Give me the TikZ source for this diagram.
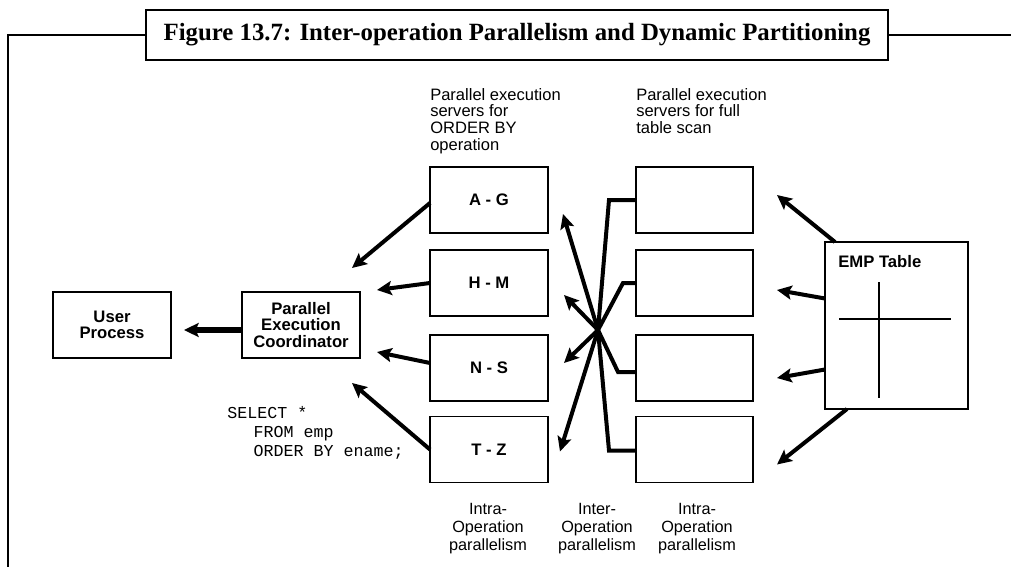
\documentclass[tikz,border=0pt]{standalone}
\usepackage{fontspec}
\setmainfont{Liberation Serif}
\setsansfont{Liberation Sans}
\setmonofont{Liberation Mono}
\usetikzlibrary{arrows.meta,calc}
\begin{document}
\begin{tikzpicture}[x=0.75pt,y=-0.75pt,
  box/.style={draw,line width=1pt,inner sep=0pt,outer sep=0pt,minimum width=88.5pt,minimum height=49.5pt,font=\sffamily\bfseries\fontsize{12.5}{12.5}\selectfont,align=center},
  arr/.style={line width=3pt,-{Stealth[length=11pt,width=10.5pt,inset=2.2pt]}},
  conn/.style={line width=3pt,line join=miter},
  lab/.style={inner sep=0pt,font=\sffamily\fontsize{12.4}{12.5}\selectfont,align=left},
  blab/.style={inner sep=0pt,font=\sffamily\fontsize{12.2}{13.5}\selectfont,align=center},
  frame/.style={line width=1.6pt},
  thin/.style={line width=1pt}]
\useasboundingbox (0,0) rectangle (1011,567);
% title and frame
\node[draw,line width=2pt,minimum width=556.5pt,minimum height=37.5pt,inner sep=0pt,font=\rmfamily\bfseries\fontsize{18.6}{20}\selectfont] (title) at (517,35) {Figure 13.7: Inter-operation Parallelism and Dynamic Partitioning};
\coordinate (fbl) at (8,572);
\coordinate (fr) at (1015,35);
\draw[frame] (title.west) -| (fbl);
\draw[frame] (title.east) -- (fr);
% boxes
\node[box] (user) at (112,325) {User\\Process};
\node[box] (coord) at (301,325) {Parallel\\Execution\\Coordinator};
\node[box] (A) at (489,200) {A - G};
\node[box] (H) at (489,283) {H - M};
\node[box] (N) at (489,368) {N - S};
\node[box] (T) at (489,449.5) {T - Z};
\node[box,minimum width=87.75pt] (R1) at (694.5,200) {};
\node[box,minimum width=87.75pt] (R2) at (694.5,283) {};
\node[box,minimum width=87.75pt] (R3) at (694.5,368) {};
\node[box,minimum width=87.75pt] (R4) at (694.5,449.5) {};
\node[box,minimum width=107.25pt,minimum height=125.25pt] (emp) at (896.5,325.5) {};
\node[anchor=west,inner sep=0pt,font=\sffamily\bfseries\fontsize{12.5}{12.5}\selectfont] (emptitle) at ($(emp.north west)+(13,20)$) {EMP Table};
\coordinate (ch1) at (839,319);
\coordinate (ch2) at (951,319);
\coordinate (cv1) at (879,282);
\coordinate (cv2) at (879,398);
\draw[thin] (ch1) -- (ch2);
\draw[thin] (cv1) -- (cv2);
% labels
\node[lab,anchor=north west] (ltop) at (430,88) {Parallel execution\\servers for\\ORDER BY\\operation};
\node[lab,anchor=north west] (rtop) at (636,88) {Parallel execution\\servers for full\\table scan};
\node[blab,anchor=north] (b1) at (488,503) {Intra-\\Operation\\parallelism};
\node[blab,anchor=north] (b2) at (597,503) {Inter-\\Operation\\parallelism};
\node[blab,anchor=north] (b3) at (697,503) {Intra-\\Operation\\parallelism};
\node[inner sep=0pt,anchor=north west,align=left,font=\ttfamily\fontsize{12.5}{14.25}\selectfont] (sql) at (227,406) {SELECT *\\\hspace*{3ex}FROM emp\\\hspace*{3ex}ORDER BY ename;};
% coordinator to user
\draw[arr,line width=3.8pt] ($(coord.west)+(0,5)$) -- ($(user.east)+(13,5)$);
% servers to coordinator
\draw[arr] ($(A.west)+(0,3)$) -- ($(coord.north east)+(-8,-24)$);
\draw[arr] (H.west) -- ($(coord.east)+(17,-35)$);
\draw[arr] ($(N.west)+(0,-5)$) -- ($(coord.east)+(17,27)$);
\draw[arr] (T.west) -- ($(coord.south east)+(-8,25)$);
% crossing
\coordinate (X) at (598,330);
\draw[conn] (R1.west) -- ++(-27,0) -- (X);
\draw[conn] (R2.west) -- ++(-13,0) -- (X);
\draw[conn] ($(R3.west)+(0,4)$) -- ++(-18,0) -- (X);
\draw[conn] ($(R4.west)+(0,1)$) -- ++(-27,0) -- (X);
\draw[arr] (X) -- ($(A.east)+(15,14)$);
\draw[arr] (X) -- ($(H.east)+(16,12)$);
\draw[arr] (X) -- ($(N.east)+(16,-5)$);
\draw[arr] (X) -- ($(T.east)+(12,2)$);
% EMP to scanners
\draw[arr] ($(emp.north west)+(10,0)$) -- ($(R1.east)+(24,-5)$);
\draw[arr] ($(emp.west)+(0,-27)$) -- ($(R2.east)+(24,7)$);
\draw[arr] ($(emp.west)+(0,44)$) -- ($(R3.east)+(24,10)$);
\draw[arr] ($(emp.south west)+(22,0)$) -- ($(R4.east)+(24,15)$);
\end{tikzpicture}
\end{document}
